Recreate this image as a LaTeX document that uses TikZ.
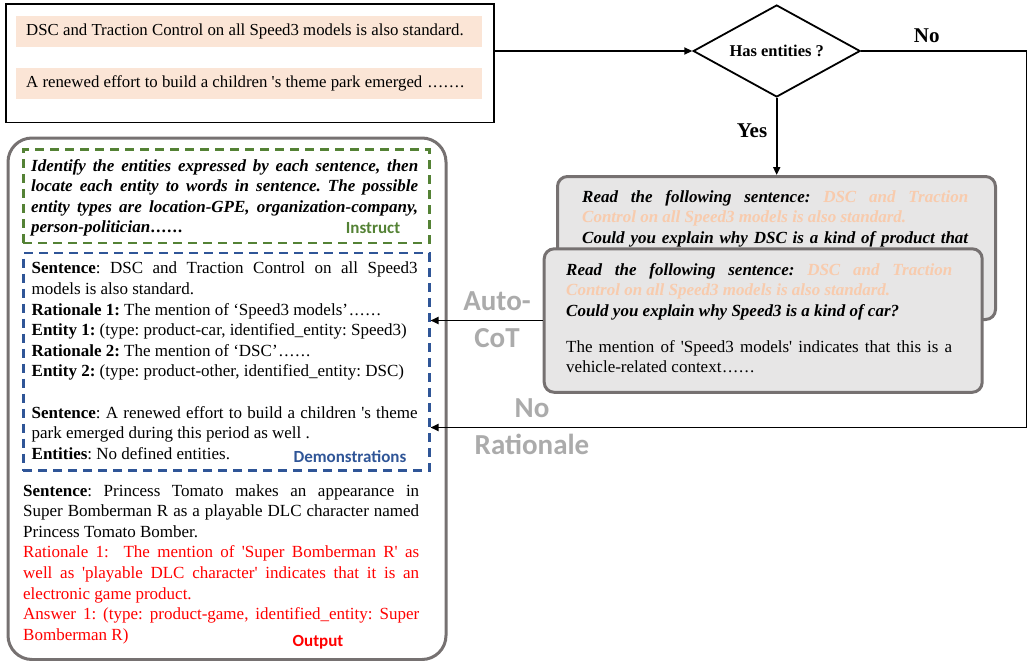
\documentclass[tikz,border=0pt]{standalone}
\usepackage{fontspec}
\setmainfont{Liberation Serif}[Ligatures=TeXOff]
\newfontfamily\labelfont{Carlito}
\usetikzlibrary{shapes.geometric,arrows.meta}
\definecolor{peach}{HTML}{FBE5D6}
\definecolor{peachtext}{HTML}{F8CBAD}
\definecolor{instrgreen}{HTML}{548235}
\definecolor{demoblue}{HTML}{2F5597}
\definecolor{boxgray}{HTML}{767171}
\definecolor{fillgray}{HTML}{E7E6E6}
\definecolor{labelgray}{HTML}{ABABAB}
\definecolor{outred}{HTML}{FF0000}
\newcommand\wideell{\hbox to 2em{\hfil.\hfil.\hfil.\hfil.\hfil.\hfil.\hfil}}
\begin{document}
\begin{tikzpicture}[x=1pt,y=-1pt,
  conn/.style={line width=1.8pt},
  arr/.style={line width=1.8pt,-{Triangle[length=8pt,width=7pt]}},
  hl/.style={fill=peach,anchor=north west,minimum width=466pt,minimum height=31pt,
    inner xsep=10pt,inner ysep=0pt,
    font=\fontsize{16.8}{19}\selectfont},
  body/.style={anchor=north west,inner sep=0pt,align=justify,
    font=\fontsize{17}{20.6}\selectfont\frenchspacing},
  bodybi/.style={body,font=\bfseries\itshape\fontsize{17}{20.6}\selectfont\frenchspacing},
  dashbox/.style={anchor=north west,line width=2.5pt,dash pattern=on 9pt off 6pt,
    minimum width=406pt,inner sep=0pt},
  promptbox/.style={anchor=north west,draw=boxgray,fill=fillgray,line width=3pt,
    rounded corners=10pt,inner sep=0pt},
  tag/.style={font=\labelfont\bfseries\fontsize{17}{20}\selectfont},
  biglabel/.style={font=\labelfont\bfseries\fontsize{29}{37}\selectfont,
    text=labelgray,align=center,inner sep=0pt},
  yn/.style={font=\bfseries\fontsize{21}{24}\selectfont,inner sep=0pt}
]
\useasboundingbox (0,0) rectangle (1028,661);

% input box
\node[draw,line width=1.6pt,anchor=north west,minimum width=488pt,
  minimum height=118pt,inner sep=0pt] (input) at (5,3.5) {};
\node[hl] (s1) at (16,16) {\makebox[446pt][l]{DSC and Traction Control on all Speed3 models is also standard.}};
\node[hl] (s2) at (16,68) {\makebox[446pt][l]{A renewed effort to build a children 's theme park emerged \wideell.}};

% decision
\node[draw,diamond,aspect=1.75,line width=1.8pt,minimum width=167pt,
  minimum height=92pt,inner sep=0pt,font=\bfseries\fontsize{16.5}{19}\selectfont]
  (dia) at (776.7,51) {Has entities ?};
\node[yn] (no) at (926.7,35.5) {No};
\node[yn] (yes) at (752,130.7) {Yes};

% outer prompt container
\node[anchor=north west,draw=boxgray,line width=3pt,rounded corners=24pt,
  minimum width=438pt,minimum height=521.5pt,inner sep=0pt] (outer) at (6.5,136.5) {};
\node[dashbox,draw=instrgreen,minimum height=93.5pt] (instr) at (22,148.2) {};
\node[dashbox,draw=demoblue,minimum height=217.5pt] (demo) at (22,251.8) {};

\node[bodybi,text width=387pt]
  (instrtext) at (31,159) {Identify the entities expressed by each sentence, then\linebreak
  locate each entity to words in sentence. The possible\linebreak
  entity types are location-GPE, organization-company,\linebreak
  person-politician\wideell};
\node[tag,text=instrgreen] (instrtag) at (373,228) {Instruct};

\node[body,text width=386pt] (demotext) at (31.5,262) {\textbf{Sentence}: DSC and Traction Control on all Speed3\linebreak
  models is also standard.\\
  \textbf{Rationale 1:} The mention of ‘Speed3 models’\wideell\\
  \textbf{Entity 1:} (type: product-car, identified\_entity: Speed3)\\
  \textbf{Rationale 2:} The mention of ‘DSC’\wideell\\
  \textbf{Entity 2:} (type: product-other, identified\_entity: DSC)\\
  \mbox{}\\
  \textbf{Sentence}: A renewed effort to build a children 's theme\linebreak
  park emerged during this period as well .\\
  \textbf{Entities}: No defined entities.};
\node[tag,text=demoblue] (demotag) at (350,457) {Demonstrations};

\node[body,text width=396pt] (outtext) at (23,484) {\textbf{Sentence}: Princess Tomato makes an appearance in\linebreak
  Super Bomberman R as a playable DLC character named\linebreak
  Princess Tomato Bomber.\\
  {\color{outred}Rationale 1:\ \ The mention of 'Super Bomberman R' as\linebreak
  well as 'playable DLC character' indicates that it is an\linebreak
  electronic game product.\\
  Answer 1: (type: product-game, identified\_entity: Super\linebreak
  Bomberman R)}};
\node[tag,text=outred] (outtag) at (318,642) {Output};

% prompt boxes (back and front)
\node[promptbox,minimum width=438pt,minimum height=143pt] (back) at (556,175) {};
\node[bodybi,text width=386pt]
  (backtext) at (582,190) {Read the following sentence: \textcolor{peachtext}{DSC and Traction\linebreak
  Control on all Speed3 models is also standard.}\\
  Could you explain why DSC is a kind of product that\linebreak\mbox{}};
\node[promptbox,minimum width=438pt,minimum height=143.5pt] (front) at (542.7,247.3) {};
\node[body,text width=386pt] (fronttext) at (566,263) {{\bfseries\itshape Read the following sentence: \textcolor{peachtext}{DSC and Traction\linebreak
  Control on all Speed3 models is also standard.}\\
  Could you explain why Speed3 is a kind of car?}\\[15.4pt]
  The mention of 'Speed3 models' indicates that this is a\linebreak
  vehicle-related context\wideell};

% labels on arrows
\node[biglabel] (autocot) at (497,320) {Auto-\\CoT};
\node[biglabel] (norat) at (532,427) {No\\Rationale};

% connectors
\coordinate (ne) at (1026.5,51);
\coordinate (se) at (1026.5,427.5);
\draw[arr] (input.east |- dia.west) -- (dia.west);
\draw[arr] (dia.south) -- (dia.south |- back.north);
\draw[conn] (dia.east) -- (ne) -- (se);
\draw[arr] (se) -- (demo.east |- se);
\draw[arr] (front.west |- 0,320.5) -- (demo.east |- 0,320.5);
\end{tikzpicture}
\end{document}
